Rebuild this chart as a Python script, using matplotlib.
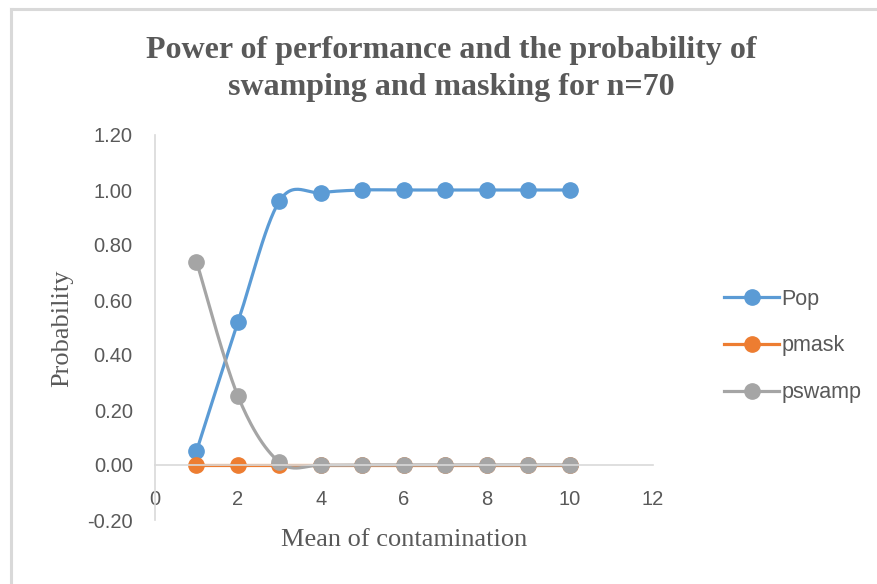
import matplotlib
matplotlib.use("Agg")
import matplotlib.pyplot as plt
from matplotlib.lines import Line2D
import numpy as np

# data
x = [1, 2, 3, 4, 5, 6, 7, 8, 9, 10]
pop = [0.05, 0.52, 0.96, 0.99, 1.00, 1.00, 1.00, 1.00, 1.00, 1.00]
pmask = [0.00, 0.00, 0.00, 0.00, 0.00, 0.00, 0.00, 0.00, 0.00, 0.00]
pswamp = [0.74, 0.25, 0.01, 0.00, 0.00, 0.00, 0.00, 0.00, 0.00, 0.00]
names = ['Pop', 'pmask', 'pswamp']
colors = ['#5B9BD5', '#ED7D31', '#A5A5A5']

TXT = '#595959'


def smooth(xs, ys, n=30):
    # Excel-style smoothed line: Bezier segments, Catmull-Rom control points
    xs = np.asarray(xs, float)
    ys = np.asarray(ys, float)
    px = np.concatenate([[xs[0]], xs, [xs[-1]]])
    py = np.concatenate([[ys[0]], ys, [ys[-1]]])
    t = np.linspace(0, 1, n)
    outx, outy = [], []
    for i in range(1, len(px) - 2):
        p0 = np.array([px[i], py[i]])
        p3 = np.array([px[i + 1], py[i + 1]])
        c1 = p0 + (p3 - np.array([px[i - 1], py[i - 1]])) / 6
        c2 = p3 - (np.array([px[i + 2], py[i + 2]]) - p0) / 6
        b = ((1 - t) ** 3)[:, None] * p0 + (3 * (1 - t) ** 2 * t)[:, None] * c1 \
            + (3 * (1 - t) * t ** 2)[:, None] * c2 + (t ** 3)[:, None] * p3
        outx.extend(b[:, 0])
        outy.extend(b[:, 1])
    return outx, outy


fig = plt.figure(figsize=(8.78, 5.84), dpi=100)
ax = fig.add_axes([155 / 878, 1 - 520 / 584, 498 / 878, 385 / 584])

handles = []
for ys, name, c in zip([pop, pmask, pswamp], names, colors):
    sx, sy = smooth(x, ys)
    ax.plot(sx, sy, color=c, lw=2.3, solid_capstyle='round')
    ax.plot(x, ys, 'o', color=c, ms=11, mec=c)
    handles.append(Line2D([], [], color=c, lw=2.3, marker='o', ms=11, label=name))

ax.set_xlim(0, 12)
ax.set_ylim(-0.2, 1.2)
ax.set_xticks(range(0, 13, 2))
ax.set_yticks(np.arange(-0.2, 1.21, 0.2))
ax.yaxis.set_major_formatter(matplotlib.ticker.FormatStrFormatter('%.2f'))

for s in ['top', 'right']:
    ax.spines[s].set_visible(False)
ax.spines['bottom'].set_position(('data', 0))
for s in ['bottom', 'left']:
    ax.spines[s].set_color('#d9d9d9')
    ax.spines[s].set_linewidth(1.2)
ax.tick_params(length=0, labelsize=14.5, labelcolor=TXT)
ax.tick_params(axis='x', pad=18)
ax.tick_params(axis='y', pad=16)
for lab in ax.get_xticklabels() + ax.get_yticklabels():
    lab.set_fontfamily('Liberation Sans')

fig.text(451 / 878, 1 - 69 / 584,
         'Power of performance and the probability of\nswamping and masking for n=70',
         ha='center', va='center', fontsize=23, fontweight='bold', color=TXT,
         family='Liberation Serif', linespacing=1.35)
fig.text(404 / 878, 1 - 540 / 584, 'Mean of contamination', ha='center', va='center',
         fontsize=19, color=TXT, family='Liberation Serif')
fig.text(62 / 878, 1 - 328 / 584, 'Probability', ha='center', va='center', rotation=90,
         fontsize=19, color=TXT, family='Liberation Serif')

leg = fig.legend(handles=handles, loc='center left', bbox_to_anchor=(705 / 878, 1 - 346 / 584),
                 frameon=False, handlelength=2.55, labelspacing=1.2, handletextpad=0.1,
                 prop={'family': 'Liberation Sans', 'size': 15.5})
for t in leg.get_texts():
    t.set_color(TXT)

# chart border (only top/left edges visible in the reference)
fig.add_artist(Line2D([11 / 878, 11 / 878], [0, 1 - 9 / 584], color='#d9d9d9', lw=2.2))
fig.add_artist(Line2D([11 / 878, 1], [1 - 9 / 584, 1 - 9 / 584], color='#d9d9d9', lw=2.2))

fig.savefig('out.png', dpi=100)
